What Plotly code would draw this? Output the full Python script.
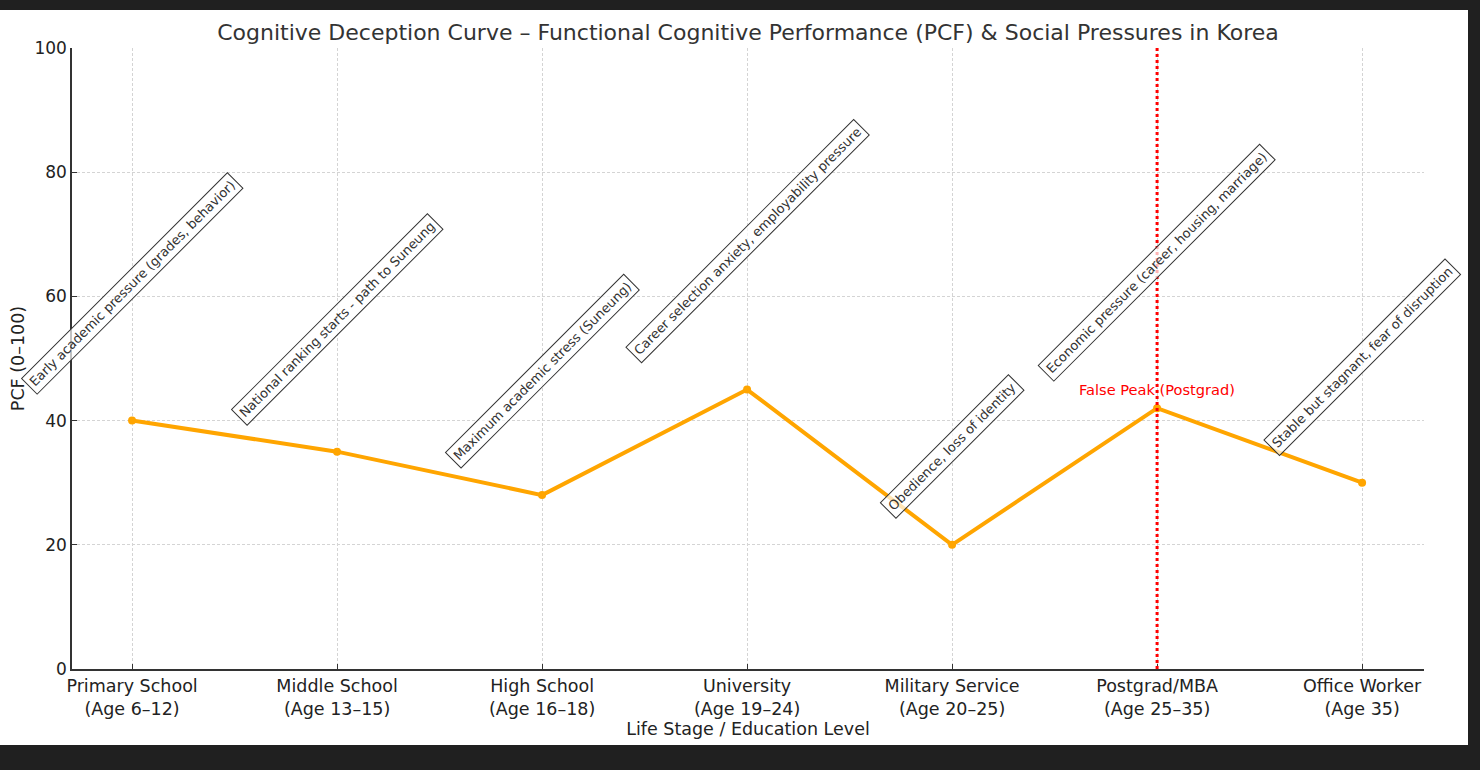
import plotly.graph_objects as go

# --- Data ---
stages = [
    "Primary School<br>(Age 6–12)",
    "Middle School<br>(Age 13–15)",
    "High School<br>(Age 16–18)",
    "University<br>(Age 19–24)",
    "Military Service<br>(Age 20–25)",
    "Postgrad/MBA<br>(Age 25–35)",
    "Office Worker<br>(Age 35)",
]
pcf = [40, 35, 28, 45, 20, 42, 30]
pressures = [
    "Early academic pressure (grades, behavior)",
    "National ranking starts - path to Suneung",
    "Maximum academic stress (Suneung)",
    "Career selection anxiety, employability pressure",
    "Obedience, loss of identity",
    "Economic pressure (career, housing, marriage)",
    "Stable but stagnant, fear of disruption",
]
false_peak_idx = 5

W, H = 1480, 770
ML, MR, MT, MB = 72, 56, 48, 101
pw, ph = W - ML - MR, H - MT - MB

fig = go.Figure()

fig.add_trace(go.Scatter(
    x=stages, y=pcf, mode='lines+markers', name='PCF',
    line=dict(color='#FFA500', width=4),
    marker=dict(color='#FFA500', size=8),
    showlegend=False
))

# false peak marker line
fig.add_shape(type='line', xref='x', yref='paper',
              x0=stages[false_peak_idx], x1=stages[false_peak_idx], y0=0, y1=1,
              line=dict(color='red', width=3, dash='dot'), layer='above')

# dark screenshot frame with white canvas
fig.add_shape(type='rect', xref='paper', yref='paper', layer='below',
              x0=-ML / pw, x1=(W - 12 - ML) / pw,
              y0=-(MB - 25) / ph, y1=(ph + MT - 10) / ph,
              fillcolor='white', line=dict(width=0))

# --- Annotations: social pressures ---
for s, v, txt in zip(stages, pcf, pressures):
    fig.add_annotation(
        x=s, y=v + 5, text=txt, textangle=-45, showarrow=False,
        xanchor='center', yanchor='bottom', yshift=-5,
        font=dict(family='DejaVu Sans', size=13, color='#333333'),
        bgcolor='rgba(255,255,255,0.7)', bordercolor='#333333',
        borderwidth=1, borderpad=3
    )

fig.add_annotation(
    x=stages[false_peak_idx], y=pcf[false_peak_idx] + 3,
    text='False Peak (Postgrad)', showarrow=False,
    xanchor='center', yanchor='middle',
    font=dict(family='DejaVu Sans', size=14.6, color='red')
)

fig.update_layout(
    width=W, height=H,
    margin=dict(l=ML, r=MR, t=MT, b=MB),
    paper_bgcolor='#202020', plot_bgcolor='white',
    font=dict(family='DejaVu Sans', size=17.5, color='#222222'),
    title=dict(
        text='Cognitive Deception Curve – Functional Cognitive Performance (PCF) & Social Pressures in Korea',
        x=(ML + pw / 2) / W, xanchor='center', y=1 - 32 / H, yanchor='middle',
        font=dict(family='DejaVu Sans', size=22, color='#333333')
    ),
)

fig.update_xaxes(
    type='category', range=[-0.293, 6.302],
    showgrid=True, gridcolor='#d4d4d4', griddash='3px,2px', gridwidth=1,
    showline=True, linecolor='#333333', linewidth=1.5, mirror=False,
    ticks='inside', ticklen=5, tickcolor='#333333',
    title=dict(text='Life Stage / Education Level', standoff=2,
               font=dict(size=17.5, color='#222222')),
    tickfont=dict(size=17.5, color='#222222')
)
fig.update_yaxes(
    range=[0, 100], dtick=20,
    showgrid=True, gridcolor='#d4d4d4', griddash='3px,2px', gridwidth=1,
    zeroline=False,
    showline=True, linecolor='#333333', linewidth=1.5, mirror=False,
    ticks='inside', ticklen=5, tickcolor='#333333',
    title=dict(text='PCF (0–100)', standoff=5,
               font=dict(size=17.5, color='#222222')),
    tickfont=dict(size=17, color='#222222')
)

fig.write_html("out.html", config={'displayModeBar': False},
               post_script="document.body.style.margin='0';document.body.style.background='#202020';")
